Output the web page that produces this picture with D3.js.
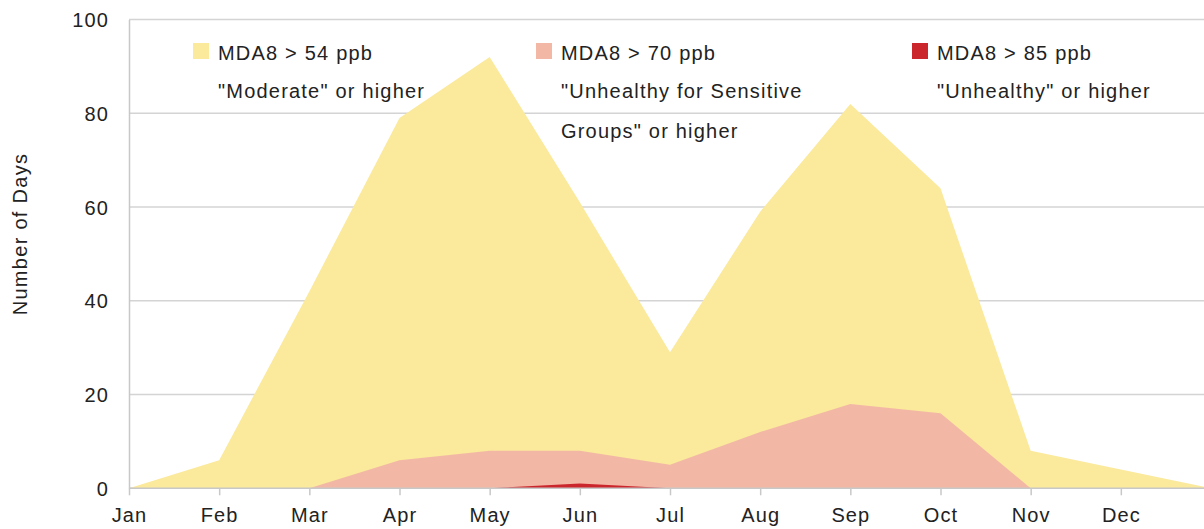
<!DOCTYPE html>
<meta charset="utf-8">
<script src="https://d3js.org/d3.v7.min.js"></script>

<style>
body { margin: 0; background: #fff; }
svg { display: block; font-family: 'Liberation Sans', Arial, sans-serif; }
.grid line { stroke: #d4d4d4; stroke-width: 1.5; }
.axis path, .axis line { stroke: #c8c8c8; stroke-width: 1.5; }
.axis text { font-size: 20px; letter-spacing: 1.1px; fill: #222; }
.legend text { font-size: 20px; letter-spacing: 1.2px; fill: #222; }
text.ytitle { font-size: 20px; letter-spacing: 1.3px; fill: #222; }
</style>

<svg width="1204" height="529"></svg>

<script>
// month labels (the 13th point is the following Jan, at the right edge)
const months = ['Jan', 'Feb', 'Mar', 'Apr', 'May', 'Jun', 'Jul', 'Aug', 'Sep', 'Oct', 'Nov', 'Dec'];
const moderate = [0, 6, 42, 79, 92, 61, 29, 59, 82, 64, 8, 4, 0];
const usg = [0, 0, 0, 6, 8, 8, 5, 12, 18, 16, 0, 0, 0];
const unhealthy = [0, 0, 0, 0, 0, 1, 0, 0, 0, 0, 0, 0, 0];
const yTicks = [0, 20, 40, 60, 80, 100];

const series = [
  { name: 'MDA8 > 54 ppb', sub: ['"Moderate" or higher'], values: moderate, color: '#fbe99c', lx: 193 },
  { name: 'MDA8 > 70 ppb', sub: ['"Unhealthy for Sensitive', 'Groups" or higher'], values: usg, color: '#f2b8a5', lx: 536 },
  { name: 'MDA8 > 85 ppb', sub: ['"Unhealthy" or higher'], values: unhealthy, color: '#cc262d', lx: 912 }
];

const svg = d3.select('svg');
const plotLeft = 129, plotTop = 19.5, plotBottom = 488.3;

const x = d3.scaleLinear().domain([0, 12]).range([plotLeft, 1211]);
const y = d3.scaleLinear().domain([0, 100]).range([plotBottom, plotTop]);

// gridlines
svg.append('g')
  .attr('class', 'grid')
  .selectAll('line')
  .data(yTicks)
  .join('line')
  .attr('x1', plotLeft)
  .attr('x2', 1204)
  .attr('y1', d => y(d))
  .attr('y2', d => y(d));

// areas, overlapping from zero
const area = d3.area()
  .x((d, i) => x(i))
  .y0(y(0))
  .y1(d => y(d));

svg.selectAll('path.area')
  .data(series)
  .join('path')
  .attr('class', 'area')
  .attr('fill', d => d.color)
  .attr('d', d => area(d.values));

// axes
const xAxis = svg.append('g')
  .attr('class', 'axis')
  .attr('transform', `translate(0, ${plotBottom})`)
  .call(d3.axisBottom(x)
    .tickValues(d3.range(12))
    .tickFormat(i => months[i])
    .tickSize(7)
    .tickSizeOuter(0)
    .tickPadding(13));
xAxis.select('.domain').attr('d', `M${plotLeft},0H1204`);

const yAxis = svg.append('g')
  .attr('class', 'axis')
  .attr('transform', `translate(${plotLeft}, 0)`)
  .call(d3.axisLeft(y)
    .tickValues(yTicks)
    .tickSize(0)
    .tickSizeOuter(0)
    .tickPadding(20));
yAxis.selectAll('.tick text').attr('dy', '0.36em');

svg.append('text')
  .attr('class', 'ytitle')
  .attr('transform', 'translate(27, 234) rotate(-90)')
  .attr('text-anchor', 'middle')
  .text('Number of Days');

// legend
const lg = svg.append('g')
  .attr('class', 'legend')
  .selectAll('g')
  .data(series)
  .join('g')
  .attr('transform', d => `translate(${d.lx}, 43)`);

lg.append('rect')
  .attr('width', 16)
  .attr('height', 16)
  .attr('fill', d => d.color);

lg.append('text')
  .attr('x', 25)
  .attr('y', 17)
  .text(d => d.name);

lg.selectAll('text.sub')
  .data(d => d.sub)
  .join('text')
  .attr('class', 'sub')
  .attr('x', 25)
  .attr('y', (d, i) => 55 + i * 39.5)
  .text(d => d);
</script>
